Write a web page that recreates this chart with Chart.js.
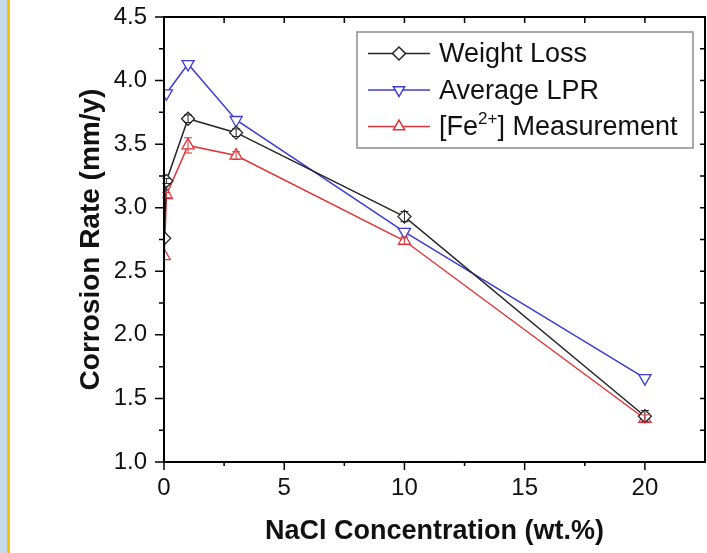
<!DOCTYPE html>
<html>
<head>
<meta charset="utf-8">
<script src="https://cdn.jsdelivr.net/npm/chart.js@4.4.1/dist/chart.umd.min.js"></script>
<style>
body { margin: 0; background: #fff; }
#wrap { position: relative; width: 707px; height: 553px; overflow: hidden; }
#strip { position: absolute; left: 0; top: 0; width: 7px; height: 553px; background: #c6daee; border-right: 3px solid #f5c400; }
canvas { position: absolute; left: 0; top: 0; }
</style>
</head>
<body>
<div id="wrap">
  <canvas id="corrosionChart" width="707" height="553"></canvas>
  <div id="strip"></div>
</div>
<script>
// values
var concentration = [0.01, 0.1, 1, 3, 10, 20];
var weightLoss = [2.76, 3.21, 3.70, 3.59, 2.93, 1.36];
var weightLossErr = [0.01, 0.02, 0.03, 0.03, 0.04, 0.045];
var averageLPR = [null, 3.90, 4.13, 3.69, 2.81, 1.66];
var feMeasurement = [2.62, 3.10, 3.49, 3.41, 2.74, 1.34];
var feErr = [0.01, 0.02, 0.06, 0.03, 0.03, 0.03];

var xTicks = [0, 5, 10, 15, 20];
var xMinorTicks = [2.5, 7.5, 12.5, 17.5];
var yTicks = [1.0, 1.5, 2.0, 2.5, 3.0, 3.5, 4.0, 4.5];
var yMinorTicks = [1.25, 1.75, 2.25, 2.75, 3.25, 3.75, 4.25];

var seriesNames = ['Weight Loss', 'Average LPR', '[Fe^{2+}] Measurement'];
var seriesColors = ['#262626', '#3c3cd2', '#e0353a'];

const FONT = "'Liberation Sans', Arial, Helvetica, sans-serif";

function toPoints(ys) {
    var pts = [];
    for (let i = 0; i < concentration.length; i++) {
        if (ys[i] !== null) pts.push({x: concentration[i], y: ys[i]});
    }
    return pts;
}

function series(idx, ys, style, rot, radius, errs) {
    return {
        label: seriesNames[idx],
        data: toPoints(ys),
        errors: errs,
        borderColor: seriesColors[idx],
        backgroundColor: '#fff',
        borderWidth: 1.5,
        pointStyle: style,
        rotation: rot,
        pointRadius: radius,
        pointBorderWidth: 1.3,
        pointBackgroundColor: '#fff',
        pointBorderColor: seriesColors[idx],
        tension: 0
    };
}

const errorBars = {
    id: 'errorBars',
    afterDatasetsDraw(chart) {
        const ctx = chart.ctx;
        const xs = chart.scales.x, ys = chart.scales.y;
        ctx.save();
        chart.data.datasets.forEach(ds => {
            if (!ds.errors) return;
            ctx.strokeStyle = ds.borderColor;
            ctx.lineWidth = 1;
            ds.data.forEach((p, i) => {
                const e = ds.errors[i];
                if (!e) return;
                const px = xs.getPixelForValue(p.x);
                const top = ys.getPixelForValue(p.y + e);
                const bot = ys.getPixelForValue(p.y - e);
                if (px < chart.chartArea.left + 2) return;
                ctx.beginPath();
                ctx.moveTo(px, top); ctx.lineTo(px, bot);
                ctx.moveTo(px - 4, top); ctx.lineTo(px + 4, top);
                ctx.moveTo(px - 4, bot); ctx.lineTo(px + 4, bot);
                ctx.stroke();
            });
        });
        ctx.restore();
    }
};

const frameAndTicks = {
    id: 'frameAndTicks',
    afterDraw(chart) {
        const ctx = chart.ctx;
        const a = chart.chartArea;
        const xs = chart.scales.x, ys = chart.scales.y;
        ctx.save();
        ctx.strokeStyle = '#000';
        ctx.lineWidth = 1.5;
        ctx.beginPath();
        // outward ticks, bottom and left
        xTicks.forEach(v => {
            const px = xs.getPixelForValue(v);
            ctx.moveTo(px, a.bottom); ctx.lineTo(px, a.bottom + 8);
        });
        xMinorTicks.forEach(v => {
            const px = xs.getPixelForValue(v);
            ctx.moveTo(px, a.bottom); ctx.lineTo(px, a.bottom + 4);
        });
        yTicks.forEach(v => {
            const py = ys.getPixelForValue(v);
            ctx.moveTo(a.left, py); ctx.lineTo(a.left - 9, py);
        });
        yMinorTicks.forEach(v => {
            const py = ys.getPixelForValue(v);
            ctx.moveTo(a.left, py); ctx.lineTo(a.left - 5, py);
        });
        // inward ticks on top and right
        xTicks.concat(xMinorTicks).forEach(v => {
            const px = xs.getPixelForValue(v);
            ctx.moveTo(px, a.top); ctx.lineTo(px, a.top + 6);
        });
        yTicks.concat(yMinorTicks).forEach(v => {
            const py = ys.getPixelForValue(v);
            ctx.moveTo(a.right, py); ctx.lineTo(a.right - 5, py);
        });
        ctx.stroke();
        ctx.lineWidth = 2;
        ctx.strokeRect(a.left, a.top, a.right - a.left, a.bottom - a.top);
        ctx.restore();
    }
};

function drawLabel(ctx, text, x, y) {
    // handles a ^{...} superscript
    const m = text.match(/^(.*)\^\{(.+?)\}(.*)$/);
    ctx.font = '27px ' + FONT;
    if (!m) { ctx.fillText(text, x, y); return; }
    ctx.fillText(m[1], x, y);
    x += ctx.measureText(m[1]).width;
    ctx.font = '17px ' + FONT;
    ctx.fillText(m[2], x, y - 9);
    x += ctx.measureText(m[2]).width;
    ctx.font = '27px ' + FONT;
    ctx.fillText(m[3], x, y);
}

const boxLegend = {
    id: 'boxLegend',
    afterDraw(chart) {
        const ctx = chart.ctx;
        const rows = [53.5, 90, 126.5];
        ctx.save();
        ctx.fillStyle = '#fff';
        ctx.fillRect(357, 32, 336, 116);
        ctx.strokeStyle = '#8c8c8c';
        ctx.lineWidth = 1.5;
        ctx.strokeRect(357, 32, 336, 116);
        chart.data.datasets.forEach((ds, i) => {
            const y = rows[i];
            ctx.strokeStyle = ds.borderColor;
            ctx.lineWidth = 1.5;
            ctx.beginPath();
            ctx.moveTo(368, y); ctx.lineTo(430, y);
            ctx.stroke();
            ctx.fillStyle = '#fff';
            Chart.helpers.drawPoint(ctx, {
                pointStyle: ds.pointStyle, rotation: ds.rotation,
                radius: 6.5, borderWidth: 1.2
            }, 399, y);
            ctx.fillStyle = '#111';
            ctx.textBaseline = 'middle';
            ctx.textAlign = 'left';
            drawLabel(ctx, ds.label, 439, y + 1.5);
        });
        ctx.restore();
    }
};

const data = {
    datasets: [
        series(0, weightLoss, 'rectRot', 0, 6.5, weightLossErr),
        series(1, averageLPR, 'triangle', 180, 7, null),
        series(2, feMeasurement, 'triangle', 0, 7, feErr)
    ]
};

const options = {
    responsive: false,
    animation: false,
    layout: { autoPadding: false, padding: { top: 17, right: 2, left: 0, bottom: 0 } },
    plugins: { legend: { display: false }, tooltip: { enabled: false } },
    scales: {
        x: {
            type: 'linear',
            min: 0,
            max: 22.5,
            afterFit: s => { s.height = 91; s.paddingLeft = 0; s.paddingRight = 0; },
            afterBuildTicks: s => { s.ticks = xTicks.map(v => ({value: v})); },
            grid: { display: true, drawOnChartArea: false, drawTicks: true, tickLength: 12, color: 'rgba(0,0,0,0)' },
            border: { display: false },
            ticks: { padding: 0, color: '#111', font: { family: FONT, size: 24 }, maxRotation: 0 },
            title: {
                display: true,
                text: 'NaCl Concentration (wt.%)',
                color: '#111',
                font: { family: FONT, size: 27, weight: 'bold' },
                padding: { top: 0, bottom: 5 }
            }
        },
        y: {
            type: 'linear',
            min: 1,
            max: 4.5,
            afterFit: s => { s.width = 164; s.paddingTop = 0; s.paddingBottom = 0; },
            afterBuildTicks: s => { s.ticks = yTicks.map(v => ({value: v})); },
            grid: { display: true, drawOnChartArea: false, drawTicks: true, tickLength: 17, color: 'rgba(0,0,0,0)' },
            border: { display: false },
            ticks: {
                padding: 0, color: '#111', font: { family: FONT, size: 24 },
                callback: v => Number(v).toFixed(1)
            },
            title: {
                display: true,
                text: 'Corrosion Rate (mm/y)',
                color: '#111',
                font: { family: FONT, size: 28, weight: 'bold' },
                padding: { top: 74, bottom: 0 }
            }
        }
    }
};

new Chart('corrosionChart', { type: 'line', data, options, plugins: [errorBars, frameAndTicks, boxLegend] });
</script>
</body>
</html>
